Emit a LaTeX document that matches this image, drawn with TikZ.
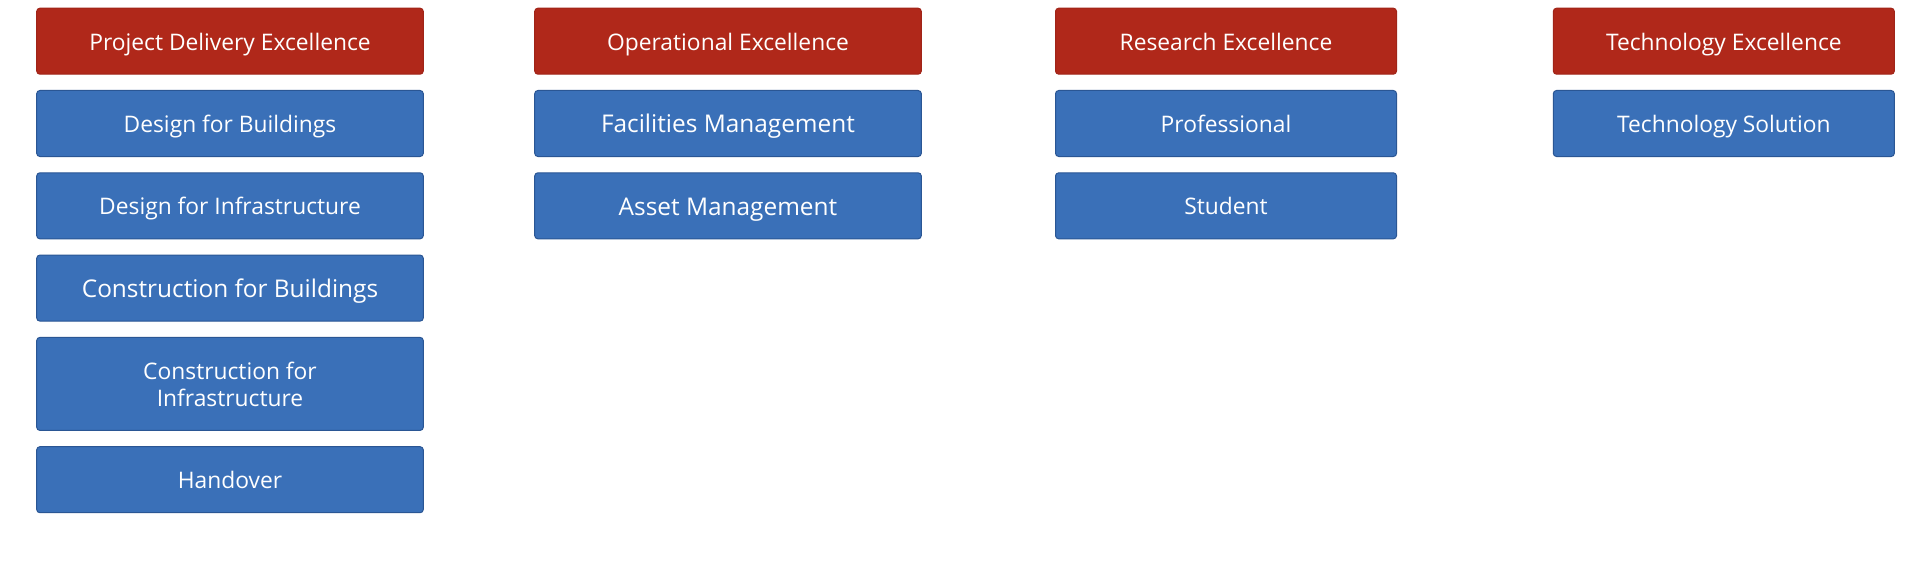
\documentclass[tikz,border=0pt]{standalone}
\usepackage{fontspec}
\setmainfont{Open Sans}
\usetikzlibrary{positioning}

\definecolor{headred}{HTML}{B0281A}
\definecolor{headredline}{HTML}{A02418}
\definecolor{itemblue}{HTML}{3A70B8}
\definecolor{itemblueline}{HTML}{2A5694}

\tikzset{
  box/.style={rounded corners=1.6pt, line width=0.5pt, text=white,
    minimum height=33pt, align=center, outer sep=0pt,
    text height=11pt, text depth=1.9pt,
    font=\fontsize{11.4}{13.5}\selectfont, inner sep=0pt},
  bigtext/.style={font=\fontsize{12.2}{14}\selectfont, text height=11.3pt},
  headbox/.style={box, fill=headred, draw=headredline},
  itembox/.style={box, fill=itemblue, draw=itemblueline},
  wide/.style={minimum width=193.3pt},
  narrow/.style={minimum width=170.5pt}
}

\begin{document}
\begin{tikzpicture}[x=0.5pt, y=-0.5pt, node distance=8.15pt]
  \useasboundingbox (0,0) rectangle (1920,567);
  \fill[white] (0,0) rectangle (1920,567);

  % Column headers
  \node[headbox, wide]   (delivery)    at (230,41.2)    {Project Delivery Excellence};
  \node[headbox, wide]   (operational) at (728,41.2)    {Operational Excellence};
  \node[headbox, narrow] (research)    at (1226,41.2)   {Research Excellence};
  \node[headbox, narrow] (technology)  at (1723.8,41.2) {Technology Excellence};

  % Project delivery
  \node[itembox, wide, below=of delivery]  (dbuild)  {Design for Buildings};
  \node[itembox, wide, below=of dbuild]    (dinfra)  {Design for Infrastructure};
  \node[itembox, wide, bigtext, below=of dinfra] (cbuild) {Construction for Buildings};
  \node[itembox, wide, below=of cbuild, minimum height=46.5pt,
        text height=, text depth=] (cinfra) {Construction for\\Infrastructure};
  \node[itembox, wide, below=of cinfra]    (handover) {Handover};

  % Operational
  \node[itembox, wide, bigtext, below=of operational] (facilities) {Facilities Management};
  \node[itembox, wide, bigtext, below=of facilities]  (asset)      {Asset Management};

  % Research
  \node[itembox, narrow, below=of research]     (professional) {Professional};
  \node[itembox, narrow, below=of professional] (student)      {Student};

  % Technology
  \node[itembox, narrow, below=of technology] (solution) {Technology Solution};
\end{tikzpicture}
\end{document}
